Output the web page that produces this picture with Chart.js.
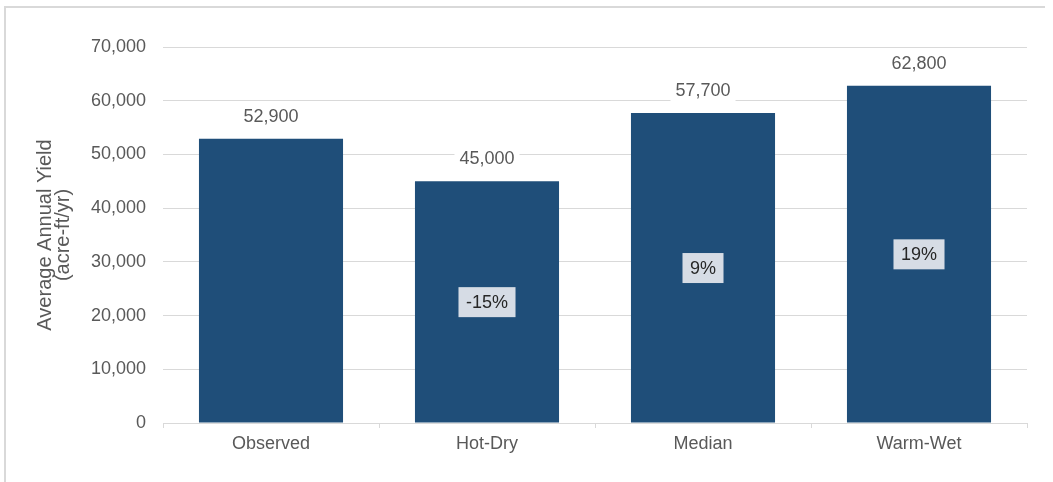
<!DOCTYPE html>
<html>
<head>
<meta charset="utf-8">
<script src="https://cdn.jsdelivr.net/npm/chart.js@4/dist/chart.umd.min.js"></script>
<style>
  html, body { margin: 0; padding: 0; background: #ffffff; }
  #wrap { position: relative; width: 1053px; height: 482px; }
</style>
</head>
<body>
<div id="wrap"><canvas id="c" width="1053" height="482"></canvas></div>
<script>
const categories = ['Observed', 'Hot-Dry', 'Median', 'Warm-Wet'];
const yieldValues = [52900, 45000, 57700, 62800];
const valueLabels = ['52,900', '45,000', '57,700', '62,800'];
const changeLabels = [null, '-15%', '9%', '19%'];
const yTickValues = [0, 10000, 20000, 30000, 40000, 50000, 60000, 70000];

const FONT = '"Liberation Sans", Arial, sans-serif';
const GRID = '#d9d9d9';
const TEXT = '#595959';

const frame = {
  id: 'frame',
  beforeDraw(chart) {
    const ctx = chart.ctx;
    ctx.save();
    ctx.fillStyle = '#d9d9d9';
    ctx.fillRect(4, 6, 2, 476);
    ctx.fillRect(4, 6, 1041, 2);
    ctx.restore();
  }
};

const labels = {
  id: 'labels',
  afterDatasetsDraw(chart) {
    const ctx = chart.ctx;
    const meta = chart.getDatasetMeta(0);
    const y = chart.scales.y;
    ctx.save();
    ctx.font = '18px ' + FONT;
    ctx.textAlign = 'center';
    ctx.textBaseline = 'middle';
    meta.data.forEach((bar, i) => {
      // value label above bar
      const ty = bar.y - 23;
      const t = valueLabels[i];
      const w = ctx.measureText(t).width;
      ctx.fillStyle = '#ffffff';
      ctx.fillRect(bar.x - w / 2 - 5, ty - 11, w + 10, 22);
      ctx.fillStyle = TEXT;
      ctx.fillText(t, bar.x, ty + 1);
      // change label in middle of bar
      const c = changeLabels[i];
      if (c) {
        const my = (bar.y + y.getPixelForValue(0)) / 2;
        const cw = ctx.measureText(c).width;
        ctx.fillStyle = '#d6dce5';
        ctx.fillRect(bar.x - cw / 2 - 7.5, my - 15, cw + 15, 30);
        ctx.fillStyle = '#262626';
        ctx.fillText(c, bar.x, my + 1);
      }
    });
    ctx.restore();
  }
};

new Chart(document.getElementById('c'), {
  type: 'bar',
  data: {
    labels: categories,
    datasets: [{
      data: yieldValues,
      backgroundColor: '#1f4e79',
      borderWidth: 0,
      barPercentage: 0.667,
      categoryPercentage: 1.0
    }]
  },
  options: {
    responsive: false,
    animation: false,
    devicePixelRatio: 1,
    layout: { padding: { top: 47, right: 26, bottom: 0, left: 0 } },
    plugins: {
      legend: { display: false },
      tooltip: { enabled: false }
    },
    scales: {
      x: {
        offset: true,
        grid: {
          display: true,
          drawOnChartArea: false,
          drawTicks: true,
          tickLength: 5,
          color: GRID,
          offset: true
        },
        border: { display: true, color: GRID, width: 1 },
        ticks: {
          color: TEXT,
          font: { family: FONT, size: 18 },
          padding: 5
        },
        afterFit(scale) { scale.height = 59; }
      },
      y: {
        min: 0,
        max: 70000,
        afterBuildTicks(scale) {
          scale.ticks = yTickValues.map(v => ({ value: v }));
        },
        grid: {
          color: GRID,
          drawTicks: false
        },
        border: { display: false },
        ticks: {
          color: TEXT,
          font: { family: FONT, size: 18 },
          padding: 17,
          callback: v => v.toLocaleString('en-US')
        },
        title: {
          display: true,
          text: ['Average Annual Yield', '(acre-ft/yr)'],
          color: TEXT,
          font: { family: FONT, size: 20, lineHeight: 0.9 },
          padding: { top: 36, bottom: 0 }
        },
        afterFit(scale) { scale.width = 163; }
      }
    }
  },
  plugins: [frame, labels]
});
</script>
</body>
</html>
